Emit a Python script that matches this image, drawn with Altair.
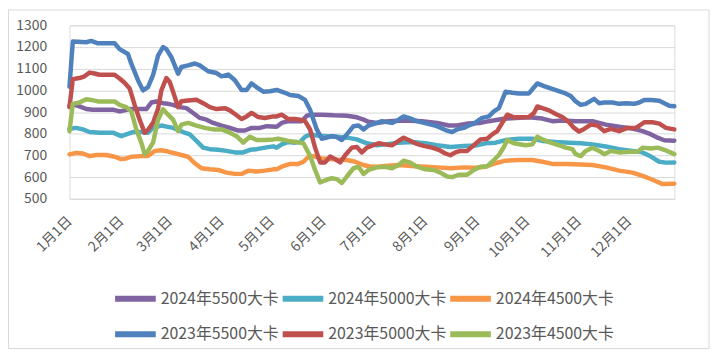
import altair as alt
import pandas as pd

series_names = ["2024年5500大卡", "2024年5000大卡", "2024年4500大卡",
                "2023年5500大卡", "2023年5000大卡", "2023年4500大卡"]
colors = ["#8064A2", "#4BACC6", "#F79646", "#4F81BD", "#C0504D", "#9BBB59"]

month_ticks = list(range(1, 13))

# 2024 5500
p24_5500_days = [0, 3, 6, 10, 14, 26, 30, 33, 36, 46, 49, 52, 56, 59, 62, 66, 70, 74, 78, 82, 86, 91, 96, 101,
                 105, 109, 114, 118, 124, 127, 131, 139, 142, 145, 151, 158, 166, 172, 176, 179, 184, 191, 201,
                 211, 220, 227, 232, 238, 246, 251, 259, 267, 275, 283, 289, 295, 303, 308, 313, 321, 329, 337,
                 343, 347, 352, 356, 362]
p24_5500_vals = [929, 933, 926, 914, 911, 911, 903, 908, 914, 914, 944, 949, 941, 938, 933, 923, 918, 896, 873,
                 865, 850, 838, 827, 815, 815, 827, 827, 835, 832, 850, 858, 858, 883, 888, 888, 885, 883, 876,
                 865, 855, 850, 858, 861, 858, 850, 838, 838, 847, 850, 858, 868, 873, 876, 870, 858, 861, 858,
                 858, 858, 842, 832, 824, 812, 801, 782, 770, 768]

# 2024 5000
p24_5000_days = [0, 4, 8, 12, 18, 26, 31, 34, 38, 43, 47, 50, 55, 59, 62, 68, 72, 76, 80, 84, 89, 94, 99, 104,
                 108, 112, 117, 122, 124, 127, 131, 135, 138, 141, 144, 148, 154, 160, 166, 172, 178, 184, 189,
                 197, 205, 213, 220, 228, 236, 243, 249, 255, 261, 269, 277, 283, 291, 299, 306, 313, 321, 329,
                 337, 343, 348, 353, 357, 362]
p24_5000_vals = [823, 827, 820, 808, 805, 805, 789, 797, 808, 808, 805, 827, 838, 832, 827, 808, 797, 767, 736,
                 729, 726, 721, 714, 714, 726, 729, 736, 742, 736, 751, 762, 759, 762, 786, 797, 792, 789, 786,
                 782, 774, 756, 747, 751, 759, 762, 756, 747, 739, 744, 746, 756, 759, 771, 777, 777, 767, 762,
                 759, 756, 751, 741, 729, 721, 714, 695, 671, 667, 668]

# 2024 4500
p24_4500_days = [0, 4, 8, 12, 16, 22, 27, 31, 34, 37, 43, 47, 51, 55, 59, 62, 67, 71, 75, 79, 84, 89, 94, 99,
                 103, 107, 112, 117, 122, 124, 127, 132, 137, 140, 143, 146, 151, 158, 166, 171, 176, 180, 184,
                 189, 197, 205, 213, 220, 228, 236, 243, 249, 255, 261, 269, 277, 283, 289, 297, 306, 313, 321,
                 329, 337, 343, 349, 355, 362]
p24_4500_vals = [705, 712, 709, 697, 702, 702, 694, 683, 686, 694, 697, 697, 721, 724, 718, 712, 702, 694, 664,
                 641, 636, 633, 621, 615, 615, 630, 626, 630, 636, 636, 648, 661, 661, 671, 694, 697, 686, 682,
                 679, 671, 656, 648, 648, 651, 656, 651, 648, 645, 641, 645, 643, 648, 664, 676, 679, 679, 671,
                 661, 661, 658, 656, 645, 630, 621, 606, 588, 568, 570]

# 2023 5500
p23_5500_days = [0, 2, 10, 13, 17, 27, 30, 35, 37, 41, 44, 47, 50, 53, 56, 58, 61, 65, 67, 71, 75, 78, 83, 88,
                 91, 95, 99, 103, 106, 109, 113, 116, 120, 124, 129, 132, 137, 141, 144, 148, 151, 154, 157,
                 160, 163, 166, 170, 173, 176, 179, 184, 187, 193, 197, 200, 203, 208, 214, 220, 225, 229, 232,
                 236, 239, 242, 247, 251, 254, 257, 259, 261, 265, 269, 275, 277, 280, 284, 288, 292, 296, 300,
                 303, 306, 309, 314, 317, 320, 325, 329, 333, 338, 341, 344, 348, 353, 356, 359, 362]
p23_5500_vals = [1017, 1225, 1222, 1228, 1217, 1217, 1190, 1168, 1123, 1047, 1000, 1015, 1070, 1160, 1200,
                 1190, 1153, 1077, 1108, 1115, 1124, 1115, 1088, 1080, 1065, 1073, 1047, 1002, 1002, 1032,
                 1009, 994, 996, 1002, 989, 979, 974, 956, 911, 820, 777, 782, 789, 785, 771, 797, 835, 838,
                 820, 838, 850, 858, 850, 865, 880, 873, 858, 847, 835, 817, 808, 820, 827, 838, 847, 873, 880,
                 903, 918, 956, 994, 989, 986, 986, 1005, 1032, 1020, 1009, 999, 989, 974, 949, 933, 938, 961,
                 941, 944, 944, 938, 941, 938, 944, 956, 956, 952, 941, 929, 927]

# 2023 5000
p23_5000_days = [0, 2, 6, 9, 12, 15, 18, 27, 30, 33, 36, 39, 42, 45, 47, 50, 53, 55, 58, 60, 62, 65, 67, 71,
                 76, 80, 84, 88, 93, 96, 99, 103, 106, 109, 113, 117, 122, 124, 127, 131, 135, 138, 141, 144,
                 147, 150, 153, 156, 159, 162, 165, 169, 172, 175, 178, 181, 185, 189, 193, 197, 200, 203, 207,
                 212, 217, 221, 225, 228, 231, 234, 238, 242, 246, 250, 253, 256, 259, 262, 266, 270, 275, 278,
                 280, 283, 287, 291, 295, 299, 302, 305, 308, 312, 316, 320, 324, 329, 334, 339, 342, 344, 349,
                 353, 357, 362]
p23_5000_vals = [923, 1052, 1057, 1065, 1082, 1078, 1072, 1072, 1055, 1035, 1009, 933, 865, 805, 818, 850, 915,
                 1000, 1057, 1039, 994, 923, 950, 953, 957, 941, 923, 914, 918, 908, 891, 868, 880, 896, 877,
                 873, 880, 880, 888, 868, 868, 865, 858, 820, 736, 668, 668, 695, 683, 668, 701, 736, 739, 714,
                 736, 745, 756, 751, 747, 767, 782, 771, 756, 744, 736, 726, 709, 701, 714, 721, 721, 747, 774,
                 777, 797, 812, 850, 888, 876, 876, 877, 896, 926, 918, 908, 891, 877, 853, 827, 810, 822, 842,
                 838, 812, 823, 812, 827, 827, 842, 853, 853, 847, 827, 820]

# 2023 4500
p23_4500_days = [0, 2, 6, 10, 13, 17, 27, 30, 34, 37, 40, 43, 45, 47, 50, 53, 56, 59, 62, 65, 67, 71, 76, 81,
                 86, 91, 96, 100, 104, 108, 112, 117, 122, 125, 131, 136, 140, 144, 147, 150, 154, 157, 160,
                 163, 166, 170, 173, 176, 179, 184, 189, 193, 197, 200, 204, 208, 213, 218, 222, 226, 229, 233,
                 238, 242, 246, 250, 254, 257, 260, 262, 266, 273, 277, 280, 283, 288, 293, 297, 301, 303, 306,
                 309, 313, 317, 320, 324, 329, 335, 340, 343, 348, 352, 356, 362]
p23_4500_vals = [812, 938, 944, 959, 956, 949, 949, 933, 923, 903, 820, 759, 706, 721, 759, 865, 913, 888, 865,
                 812, 842, 850, 838, 827, 820, 820, 805, 789, 759, 786, 771, 771, 774, 777, 767, 762, 756, 698,
                 633, 576, 588, 595, 591, 573, 603, 641, 648, 615, 633, 645, 648, 641, 656, 676, 667, 648, 636,
                 633, 621, 603, 600, 611, 611, 633, 648, 650, 679, 702, 739, 771, 756, 747, 751, 786, 774, 759,
                 747, 736, 729, 706, 697, 721, 736, 721, 706, 721, 714, 717, 717, 736, 732, 736, 726, 706]

all_days = [p24_5500_days, p24_5000_days, p24_4500_days, p23_5500_days, p23_5000_days, p23_4500_days]
all_vals = [p24_5500_vals, p24_5000_vals, p24_4500_vals, p23_5500_vals, p23_5000_vals, p23_4500_vals]

frames = []
for i, (name, d, v) in enumerate(zip(series_names, all_days, all_vals)):
    n = min(len(d), len(v))
    frames.append(pd.DataFrame({
        "date": pd.Timestamp("2024-01-01") + pd.to_timedelta(d[:n], unit="D"),
        "value": v[:n],
        "series": name,
        "k": i,
    }))
df = pd.concat(frames, ignore_index=True)

FONT = "Noto Sans CJK SC"
GRAY = "#595959"

lines = alt.Chart(df).mark_line(strokeWidth=4.5, strokeJoin="round", strokeCap="round").encode(
    x=alt.X("date:T",
            scale=alt.Scale(domain=[alt.DateTime(year=2024, month=1, date=1),
                                    alt.DateTime(year=2024, month=12, date=28)], nice=False),
            axis=alt.Axis(values=[alt.DateTime(year=2024, month=m, date=1) for m in month_ticks],
                          format="%-m月%-d日", labelAngle=-45, labelAlign="right", labelBaseline="middle",
                          labelPadding=20, grid=False, ticks=False, tickSize=0, domainColor="#d9d9d9",
                          title=None, labelFontSize=14, labelColor=GRAY, labelFont=FONT,
                          labelOverlap=False, labelFlush=False)),
    y=alt.Y("value:Q",
            scale=alt.Scale(domain=[500, 1300], nice=False, zero=False),
            axis=alt.Axis(values=list(range(500, 1301, 100)), format="d", title=None, domain=False,
                          ticks=False, tickSize=0, gridColor="#d9d9d9", labelPadding=23, labelFontSize=14,
                          labelColor=GRAY, labelFont=FONT)),
    color=alt.Color("series:N", scale=alt.Scale(domain=series_names, range=colors),
                    legend=alt.Legend(title=None, orient="none", legendX=43, legendY=252, columns=3,
                                      direction="horizontal", symbolType="stroke", symbolSize=1681,
                                      symbolStrokeWidth=6, labelFontSize=16, labelFont=FONT,
                                      labelColor=GRAY, labelOffset=2, columnPadding=-9, rowPadding=-20,
                                      padding=0, labelLimit=300)),
    detail="k:O",
)

frame = alt.Chart(pd.DataFrame({"a": [0]})).mark_rect(
    fill="#ffffff", fillOpacity=0, stroke="#d9d9d9", strokeWidth=1
).encode(x=alt.value(-61.5), x2=alt.value(645), y=alt.value(-15.5), y2=alt.value(326))

chart = alt.layer(frame, lines).properties(
    width=610, height=175,
    autosize=alt.AutoSizeParams(type="none"),
    padding={"left": 62, "top": 16, "right": 38, "bottom": 152},
).configure_view(strokeWidth=0).configure(background="#ffffff")

chart.save("out.html", embed_options={"renderer": "svg", "actions": False})
